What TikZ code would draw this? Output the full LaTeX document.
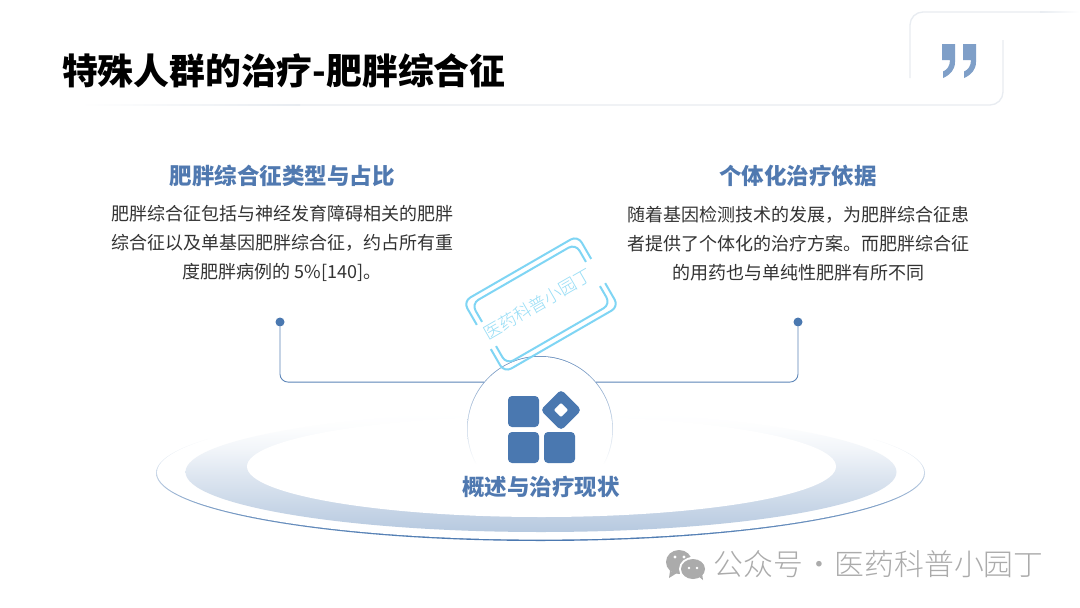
\documentclass[tikz,border=0pt]{standalone}
\usepackage{fontspec}
\setmainfont{Noto Sans CJK SC}
\newfontfamily\lightcjk{Noto Sans CJK SC Light}
\usetikzlibrary{shapes.geometric}
\definecolor{mainblue}{HTML}{4A78B0}
\definecolor{headblue}{HTML}{5079B0}
\definecolor{framegray}{HTML}{E8ECF1}
\definecolor{stampblue}{HTML}{7FD5F4}
\definecolor{stamptext}{HTML}{96DDF6}
\definecolor{quoteblue}{HTML}{7F9FC8}
\definecolor{markgray}{HTML}{ABABAB}
\definecolor{bodygray}{HTML}{333333}
\colorlet{ringA}{mainblue!40!white}
\colorlet{ringB}{mainblue!17!white}
\colorlet{ringC}{mainblue!7!white}
\colorlet{ringD}{mainblue!1!white}
\colorlet{lineB}{mainblue!70!white}
\colorlet{lineC}{mainblue!30!white}
\colorlet{circA}{mainblue!85!white}
\colorlet{circB}{mainblue!25!white}
\pgfdeclareverticalshading{ringshade}{100bp}{color(0bp)=(ringA); color(25bp)=(ringA); color(50bp)=(ringB); color(60bp)=(ringC); color(69bp)=(ringD); color(75bp)=(white); color(100bp)=(white)}
\pgfdeclareverticalshading{lineshade}{100bp}{color(0bp)=(mainblue); color(25bp)=(mainblue); color(38bp)=(lineB); color(50bp)=(lineC); color(63bp)=(white); color(100bp)=(white)}
\pgfdeclareverticalshading{circshade}{100bp}{color(0bp)=(white); color(38bp)=(white); color(50bp)=(circB); color(75bp)=(circA); color(100bp)=(circA)}
\tikzset{
  x=1pt,y=-1pt,
  titletext/.style={font=\fontsize{35.8}{40}\selectfont\bfseries,text=black,inner sep=0,anchor=west},
  headtext/.style={font=\fontsize{22.5}{28}\selectfont\bfseries,text=headblue,inner sep=0},
  bodytext/.style={font=\fontsize{18}{29}\selectfont,text=bodygray,inner sep=0,align=center},
  flat/.style={ellipse,inner sep=0,outer sep=0,draw=none},
  dotnode/.style={circle,fill=mainblue,minimum size=9,inner sep=0,outer sep=0},
  conn/.style={draw=mainblue!90,line width=.9pt,rounded corners=8},
  iconsq/.style={rectangle,fill=mainblue,rounded corners=4,minimum size=31,inner sep=0,outer sep=0},
  frameline/.style={draw=framegray,line width=1.3pt,rounded corners=13},
  stampline/.style={draw=stampblue,line width=2pt,rounded corners=8},
  quotemark/.style={fill=quoteblue,draw=none},
}
\begin{document}
\begin{tikzpicture}
\useasboundingbox (0,0) rectangle (1080,608);
\fill[white] (0,0) rectangle (1080,608);
% frame
\draw[frameline] (300,105) -- (1003,105) -- (1003,40);
\shade[left color=white,right color=framegray] (80,104.35) rectangle (300,105.65);
\draw[frameline] (910,78) -- (910,12) -- (1040,12);
\shade[left color=framegray,right color=white] (1040,11.35) rectangle (1080,12.65);
% quotes
\foreach \dx in {0,21}{
  \fill[quotemark,shift={(\dx,0)}] (942,44) -- (955,44) -- (955,62)
    .. controls (955,70) and (950,75) .. (943,78) -- (943,71.5)
    .. controls (947,70) and (950,66) .. (950,60) -- (942,60) -- cycle;
}
% title
\node[titletext] (title) at (62,71) {特殊人群的治疗-肥胖综合征};
% headings and body
\node[headtext] (headL) at (282,176) {肥胖综合征类型与占比};
\node[headtext] (headR) at (798,176) {个体化治疗依据};
\node[bodytext] (bodyL) at (282,243.5) {肥胖综合征包括与神经发育障碍相关的肥胖\\综合征以及单基因肥胖综合征，约占所有重\\度肥胖病例的 5\%[140]。};
\node[bodytext] (bodyR) at (798.5,243.5) {随着基因检测技术的发展，为肥胖综合征患\\者提供了个体化的治疗方案。而肥胖综合征\\的用药也与单纯性肥胖有所不同};
% base ellipses
\node[flat,minimum width=769,minimum height=136,shading=lineshade] (ringline) at (540.5,473) {};
\node[flat,minimum width=767,minimum height=134,fill=white] (ringgap) at (540.5,472.6) {};
\node[flat,minimum width=711,minimum height=120,shading=ringshade] (ringfill) at (541,472) {};
\node[flat,minimum width=589,minimum height=101,fill=white] (ringin) at (541.5,466.5) {};
% circle
\node[circle,inner sep=0,outer sep=0,minimum size=146,shading=circshade] (circ) at (540,429) {};
\node[circle,inner sep=0,outer sep=0,minimum size=144.4,fill=white] (circin) at (540,429) {};
% connectors
\node[dotnode] (dotL) at (280,322) {};
\node[dotnode] (dotR) at (798,322) {};
\draw[conn] (dotL) |- (circ.140);
\draw[conn] (dotR) |- (circ.40);
% icon
\node[iconsq] (sqA) at (523.5,411.5) {};
\node[iconsq] (sqB) at (523.5,447.5) {};
\node[iconsq] (sqC) at (559.5,447.5) {};
\node[rectangle,fill=mainblue,rounded corners=4,minimum size=29,inner sep=0,rotate=45] (dia) at (561,410) {};
\node[rectangle,fill=white,rounded corners=1,minimum size=10,inner sep=0,rotate=45] (diain) at (dia.center) {};
\node[headtext,text=headblue] (cap) at (541,487) {概述与治疗现状};
% stamp
\begin{scope}[shift={(541,304)},rotate=30]
  \draw[stampline] (-66,-14) -- (-66,-41) -- (66,-41) -- (66,-14);
  \draw[stampline] (-66,14) -- (-66,41) -- (66,41) -- (66,14);
  \draw[stampline] (-60,-14) -- (-60,-35) -- (60,-35) -- (60,-14);
  \draw[stampline] (-60,14) -- (-60,35) -- (60,35) -- (60,14);
\end{scope}
\node[font=\lightcjk\fontsize{17.4}{20}\selectfont,text=stamptext,inner sep=0,rotate=30] (stamp) at (538,304) {医药科普小园丁};
% mark
\fill[markgray] (679,562) ellipse (13 and 12);
\fill[markgray] (670,571) -- (669,578) -- (677,573) -- cycle;
\fill[white] (693,569) ellipse (14 and 12);
\fill[markgray] (693,569) ellipse (12 and 10);
\fill[markgray] (698,576) -- (703,580) -- (702,573) -- cycle;
\fill[white] (675,557) circle (1.6) (684,557) circle (1.6) (689,568) circle (1.4) (697,568) circle (1.4);
\node[font=\lightcjk\fontsize{29.8}{32}\selectfont,text=markgray,inner sep=0,anchor=west] (mark) at (713.5,564) {公众号\hspace{1pt}·\hspace{1pt}医药科普小园丁};
\end{tikzpicture}
\end{document}
